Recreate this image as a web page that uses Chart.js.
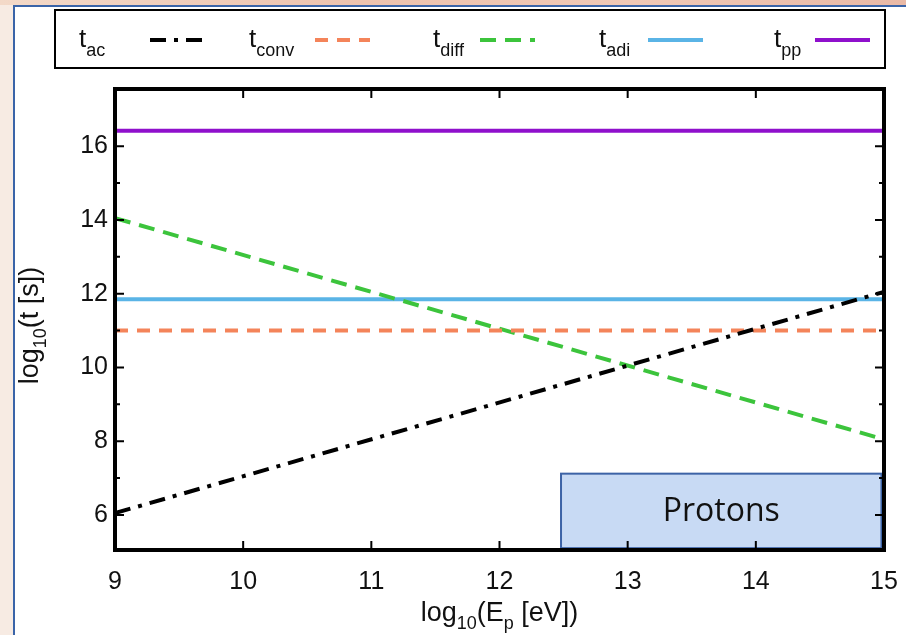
<!DOCTYPE html>
<html>
<head>
<meta charset="utf-8">
<script src="https://cdn.jsdelivr.net/npm/chart.js@4.4.1/dist/chart.umd.min.js"></script>
<style>
  body { margin: 0; width: 906px; height: 635px; overflow: hidden; background: #f7ebe3; }
  #topStrip { position: absolute; left: 0; top: 0; width: 906px; height: 5px;
    background: linear-gradient(90deg, #f3d9c8 0%, #eec3ae 40%, #f1c9b6 70%, #e9b9a6 100%); }
  #panel { position: absolute; left: 13px; top: 5px; width: 893px; height: 630px; background: #fff;
    border-left: 2px solid #3a64a8; border-top: 2px solid #3a64a8; }
  #myChart { position: absolute; left: 0; top: 0; }
</style>
</head>
<body>
<div id="topStrip"></div>
<div id="panel"></div>
<canvas id="myChart" width="906" height="635"></canvas>
<script>
'use strict';

// data
let energies = [9, 15];
let tAc = [6.05, 12.05];
let tConv = [11.0, 11.0];
let tDiff = [14.05, 8.05];
let tAdi = [11.85, 11.85];
let tPp = [16.42, 16.42];

let seriesNames = ['ac', 'conv', 'diff', 'adi', 'pp'];

// "Protons" label box in data units
let boxX = [12.48, 14.98];
let boxY = [5.1, 7.12];

// legend: where each "t" starts and where each sample line ends (px)
let legendTextX = [79, 249, 433, 599, 774];
let legendLineEnd = [205, 370, 535, 703, 870];

Chart.defaults.font.family = "'Liberation Sans', Arial, sans-serif";

function pts(ys) {
    let out = [];
    for (let i = 0; i < energies.length; i++) {
        out.push({ x: energies[i], y: ys[i] });
    }
    return out;
}

let data = {
    datasets: [
        { label: 'ac', data: pts(tAc), borderColor: '#000000', borderDash: [16, 8, 4, 8] },
        { label: 'conv', data: pts(tConv), borderColor: '#f4845a', borderDash: [13, 9] },
        { label: 'diff', data: pts(tDiff), borderColor: '#3cc43c', borderDash: [16, 9] },
        { label: 'adi', data: pts(tAdi), borderColor: '#5ab4e6' },
        { label: 'pp', data: pts(tPp), borderColor: '#8f10cc' }
    ]
};

//draws frame, inward ticks, legend, axis titles and the Protons box
let extras = {
    id: 'extras',
    afterDatasetsDraw(chart) {
        let ctx = chart.ctx;
        let a = chart.chartArea;
        let xs = chart.scales.x;
        let ys = chart.scales.y;

        // protons box
        let bx1 = xs.getPixelForValue(boxX[0]);
        let bx2 = xs.getPixelForValue(boxX[1]);
        let by1 = ys.getPixelForValue(boxY[1]);
        let by2 = ys.getPixelForValue(boxY[0]);
        ctx.save();
        ctx.fillStyle = '#c8daf4';
        ctx.strokeStyle = '#3d63a6';
        ctx.lineWidth = 2;
        ctx.fillRect(bx1, by1, bx2 - bx1, by2 - by1);
        ctx.strokeRect(bx1, by1, bx2 - bx1, by2 - by1);
        ctx.fillStyle = '#111';
        ctx.font = "32px 'Open Sans', 'Noto Sans', sans-serif";
        ctx.textAlign = 'center';
        ctx.textBaseline = 'middle';
        ctx.fillText('Protons', (bx1 + bx2) / 2, (by1 + by2) / 2 + 1);

        // ticks inside
        ctx.strokeStyle = '#000';
        ctx.lineWidth = 2;
        ctx.beginPath();
        xs.ticks.forEach(t => {
            if (t.value === xs.min || t.value === xs.max) return;
            let px = xs.getPixelForValue(t.value);
            ctx.moveTo(px, a.bottom); ctx.lineTo(px, a.bottom - 9);
            ctx.moveTo(px, a.top); ctx.lineTo(px, a.top + 9);
        });
        ys.ticks.forEach(t => {
            if (!Number.isInteger(t.value)) return;
            let len = t.value % 2 === 0 ? 9 : 5;
            let py = ys.getPixelForValue(t.value);
            ctx.moveTo(a.left, py); ctx.lineTo(a.left + len, py);
            ctx.moveTo(a.right, py); ctx.lineTo(a.right - len, py);
        });
        ctx.stroke();

        // frame
        ctx.lineWidth = 4;
        ctx.strokeRect(a.left, a.top, a.right - a.left, a.bottom - a.top);

        // axis titles
        ctx.fillStyle = '#111';
        ctx.textAlign = 'left';
        ctx.textBaseline = 'alphabetic';
        let main = "27px 'Liberation Sans', Arial, sans-serif";
        let sub = "18px 'Liberation Sans', Arial, sans-serif";
        function subText(parts, x, y) {
            // parts: [text, isSub]
            let w = 0;
            parts.forEach(p => { ctx.font = p[1] ? sub : main; w += ctx.measureText(p[0]).width; });
            let cx = x - w / 2;
            parts.forEach(p => {
                ctx.font = p[1] ? sub : main;
                ctx.fillText(p[0], cx, p[1] ? y + 8 : y);
                cx += ctx.measureText(p[0]).width;
            });
        }
        subText([['log', 0], ['10', 1], ['(E', 0], ['p', 1], [' [eV])', 0]], (a.left + a.right) / 2, 621);
        ctx.save();
        ctx.translate(38, (a.top + a.bottom) / 2 + 6);
        ctx.rotate(-Math.PI / 2);
        subText([['log', 0], ['10', 1], ['(t [s])', 0]], 0, 0);
        ctx.restore();

        // legend
        ctx.fillStyle = '#fff';
        ctx.fillRect(55, 10, 830, 58);
        ctx.strokeStyle = '#000';
        ctx.lineWidth = 2;
        ctx.strokeRect(55, 10, 830, 58);
        chart.data.datasets.forEach((ds, i) => {
            let sEnd = legendLineEnd[i];
            let sStart = sEnd - 55;
            ctx.save();
            ctx.strokeStyle = ds.borderColor;
            ctx.lineWidth = 4;
            ctx.setLineDash(ds.borderDash || []);
            ctx.beginPath();
            ctx.moveTo(sStart, 40);
            ctx.lineTo(sEnd, 40);
            ctx.stroke();
            ctx.restore();
            ctx.fillStyle = '#111';
            ctx.textAlign = 'left';
            ctx.font = "26px 'Liberation Sans', Arial, sans-serif";
            ctx.fillText('t', legendTextX[i], 47);
            let tw = ctx.measureText('t').width;
            ctx.font = "18px 'Liberation Sans', Arial, sans-serif";
            ctx.fillText(seriesNames[i], legendTextX[i] + tw, 56);
        });
        ctx.restore();
    }
};

let config = {
    type: 'line',
    data,
    options: {
        responsive: false,
        animation: false,
        layout: { padding: { top: 89, right: 22, left: 0, bottom: 0 } },
        elements: {
            line: { borderWidth: 4, tension: 0 },
            point: { radius: 0 }
        },
        plugins: {
            legend: { display: false },
            tooltip: { enabled: false }
        },
        scales: {
            x: {
                type: 'linear',
                min: 9,
                max: 15,
                grid: { display: false, drawTicks: false },
                border: { display: false },
                ticks: { stepSize: 1, padding: 17, color: '#111', font: { size: 25 } },
                afterFit: s => { s.height = 85; s.paddingLeft = 0; s.paddingRight = 0; }
            },
            y: {
                min: 5.05,
                max: 17.55,
                grid: { display: false, drawTicks: false },
                border: { display: false },
                ticks: {
                    stepSize: 1,
                    padding: 7,
                    color: '#111',
                    font: { size: 25 },
                    callback: v => (Number.isInteger(v) && v % 2 === 0) ? v : ''
                },
                afterFit: s => { s.width = 115; s.paddingTop = 0; s.paddingBottom = 0; }
            }
        }
    },
    plugins: [extras]
};

let myChart = new Chart(document.getElementById('myChart'), config);
</script>
</body>
</html>
